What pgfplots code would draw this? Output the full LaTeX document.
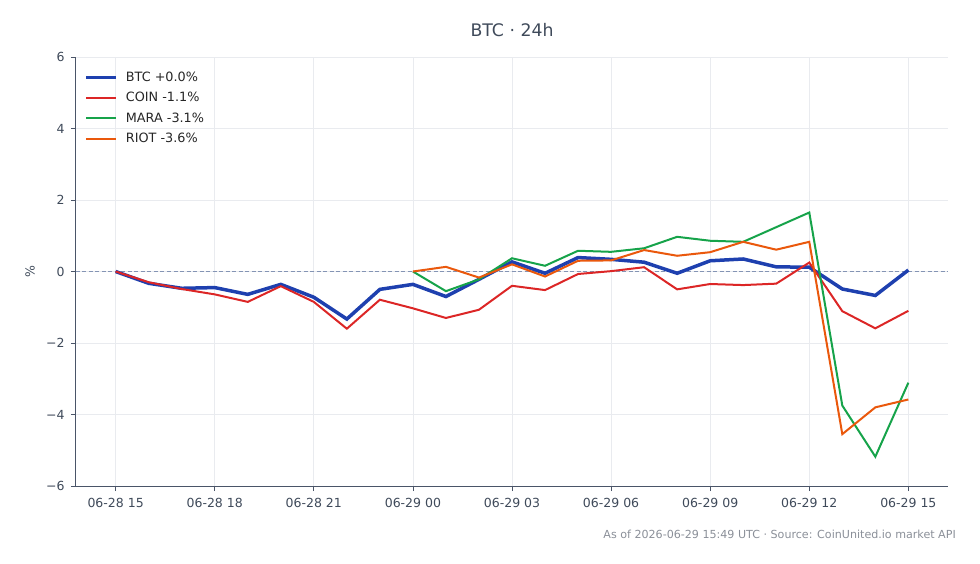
\documentclass[border=0pt]{standalone}
\usepackage{fontspec}
\setmainfont{DejaVu Sans}
\usepackage{pgfplots}
\pgfplotsset{compat=1.18}
\definecolor{btc}{HTML}{1E40AF}
\definecolor{coin}{HTML}{DC2626}
\definecolor{mara}{HTML}{16A34A}
\definecolor{riot}{HTML}{EA580C}
\definecolor{axisc}{HTML}{4A5568}
\definecolor{textc}{HTML}{3F4A5A}
\definecolor{gridc}{HTML}{E9EBEF}
\definecolor{zeroc}{HTML}{8494B4}
\definecolor{footc}{HTML}{8A8F98}
\begin{document}
\begin{tikzpicture}
\useasboundingbox (-76bp,-78bp) rectangle (904bp,486bp);
\begin{axis}[
  at={(0,0)}, anchor=south west,
  scale only axis, width=872bp, height=429bp,
  xmin=-1.2, xmax=25.2, ymin=-6, ymax=6,
  xtick={0,3,...,24},
  xticklabels={06-28 15,06-28 18,06-28 21,06-29 00,06-29 03,06-29 06,06-29 09,06-29 12,06-29 15},
  ytick={-6,-4,...,6},
  yticklabels={−6,−4,−2,0,2,4,6},
  axis x line*=bottom, axis y line*=left,
  axis line style={draw=axisc, line width=1bp, -},
  tick align=outside,
  major tick length=5bp,
  tick style={draw=axisc, line width=0.8bp},
  grid=major,
  grid style={draw=gridc, line width=0.8bp},
  ticklabel style={font=\fontsize{12.5bp}{15bp}\selectfont, text=textc},
  xticklabel style={yshift=-3.5bp},
  yticklabel style={xshift=-3bp},
  ylabel={\%},
  every axis y label/.style={at={(axis description cs:-0.0528,0.5)}, rotate=90, anchor=center, font=\fontsize{12.5bp}{15bp}\selectfont, text=textc},
  legend style={at={(axis description cs:0.006,0.975)}, anchor=north west, draw=none, fill=none,
    font=\fontsize{12.8bp}{15bp}\selectfont, text=black!85, row sep=5.5bp},
  legend cell align=left,
  legend image code/.code={\draw[#1] (0bp,0bp) -- (30bp,0bp); \path (36bp,0bp);},
]
\addplot[zeroc, line width=1bp, dash pattern=on 4bp off 2.5bp, forget plot] coordinates {(-1.2,0) (25.2,0)};
\addplot[btc, line width=3.5bp] coordinates {
(0,0.0) (1,-0.33) (2,-0.47) (3,-0.45) (4,-0.64) (5,-0.36) (6,-0.72) (7,-1.33) (8,-0.50)
(9,-0.36) (10,-0.70) (11,-0.22) (12,0.27) (13,-0.05) (14,0.39) (15,0.34) (16,0.26)
(17,-0.05) (18,0.30) (19,0.35) (20,0.13) (21,0.12) (22,-0.49) (23,-0.67) (24,0.04)};
\addlegendentry{BTC +0.0\%}
\addplot[coin, line width=2bp] coordinates {
(0,0.0) (1,-0.30) (2,-0.49) (3,-0.64) (4,-0.85) (5,-0.41) (6,-0.85) (7,-1.60) (8,-0.79)
(9,-1.03) (10,-1.30) (11,-1.07) (12,-0.40) (13,-0.52) (14,-0.07) (15,0.01) (16,0.12)
(17,-0.50) (18,-0.35) (19,-0.38) (20,-0.34) (21,0.25) (22,-1.11) (23,-1.59) (24,-1.10)};
\addlegendentry{COIN -1.1\%}
\addplot[mara, line width=2bp] coordinates {
(9,0.0) (10,-0.55) (11,-0.22) (12,0.37) (13,0.16) (14,0.58) (15,0.55) (16,0.65)
(17,0.97) (18,0.86) (19,0.83) (20,1.24) (21,1.65) (22,-3.75) (23,-5.18) (24,-3.11)};
\addlegendentry{MARA -3.1\%}
\addplot[riot, line width=2bp] coordinates {
(9,0.0) (10,0.13) (11,-0.17) (12,0.20) (13,-0.14) (14,0.30) (15,0.31) (16,0.60)
(17,0.44) (18,0.54) (19,0.83) (20,0.61) (21,0.83) (22,-4.55) (23,-3.80) (24,-3.58)};
\addlegendentry{RIOT -3.6\%}
\end{axis}
\node[anchor=base, font=\fontsize{17.3bp}{20bp}\selectfont, text=textc] at (436bp,449bp) {BTC · 24h};
\node[anchor=base east, font=\fontsize{11.1bp}{13bp}\selectfont, text=footc, inner sep=0pt] at (880bp,-52bp) {As of 2026-06-29 15:49 UTC · Source: CoinUnited.io market API};
\end{tikzpicture}
\end{document}
